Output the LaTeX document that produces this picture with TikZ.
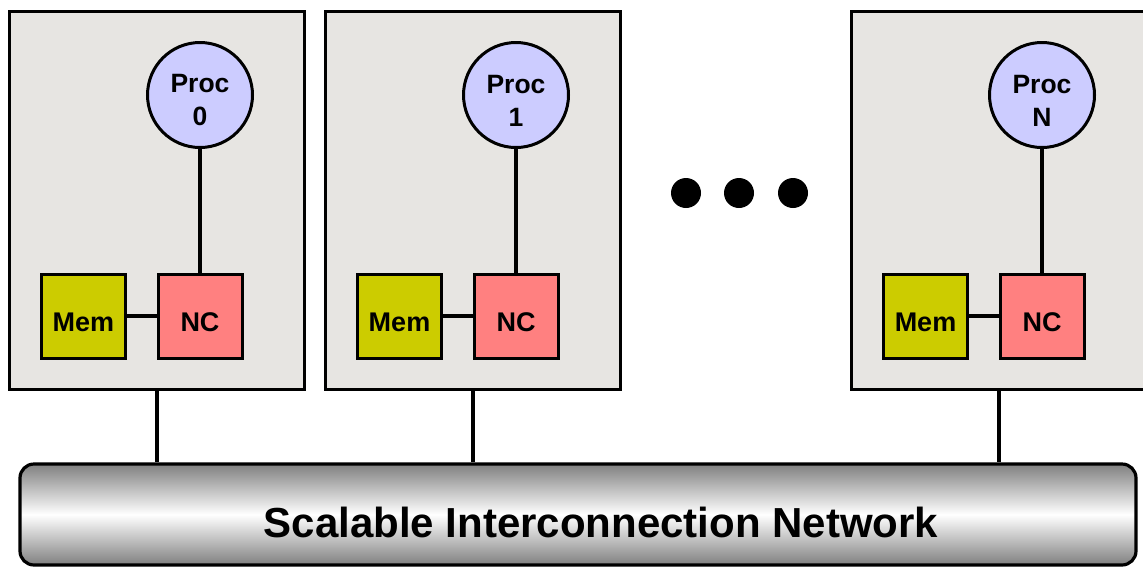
\documentclass[tikz,border=0pt]{standalone}
\usepackage{fontspec}
\setmainfont{Liberation Sans}
\definecolor{boxbg}{RGB}{231,229,226}
\definecolor{procfill}{RGB}{204,204,255}
\definecolor{memfill}{RGB}{204,204,0}
\definecolor{ncfill}{RGB}{255,128,128}
\tikzset{
  modbox/.style={draw=black, line width=3pt, fill=boxbg, minimum width=295pt, minimum height=378pt, inner sep=0pt},
  proc/.style={circle, draw=black, line width=3pt, fill=procfill, minimum size=105pt, inner sep=0pt},
  proctext/.style={align=center, inner sep=0pt, font=\fontsize{26.5}{33}\selectfont\bfseries},
  sq/.style={draw=black, line width=3pt, minimum size=84pt, inner sep=0pt, text height=30.6pt, text depth=0pt, font=\fontsize{27}{30}\selectfont\bfseries},
  mem/.style={sq, fill=memfill},
  nc/.style={sq, fill=ncfill},
  wire/.style={line width=3.6pt},
  dot/.style={circle, fill=black, minimum size=30pt, inner sep=0pt},
  net/.style={draw=black, line width=3.2pt, rounded corners=14pt, minimum width=1116pt, minimum height=101pt, inner sep=0pt,
    top color=gray!100, bottom color=gray!100, middle color=white, shading angle=0},
}
\begin{document}
\begin{tikzpicture}[x=1pt,y=-1pt]
\useasboundingbox (0,0) rectangle (1143,566);
\clip (0,0) rectangle (1143,566);
\fill[white] (0,0) rectangle (1143,566);
% network
\node[net] (net) at (578,514.5) {};
\node[font=\fontsize{42}{48}\selectfont\bfseries] (nettext) at (601,522) {Scalable Interconnection Network};
% modules
\foreach \L/\n/\lab in {9/0/0, 325/1/1, 851/2/N}{
  \node[modbox] (box\n) at (\L+147.5,200) {};
  \node[proc] (proc\n) at (\L+191,95) {};
  \node[proctext] (proctext\n) at (\L+191,100.5) {Proc\\\lab};
  \node[nc] (nc\n) at (\L+191,316) {NC};
  \node[mem] (mem\n) at (\L+74.5,316) {Mem};
  \draw[wire] (nc\n.north) -- (proc\n.south);
  \draw[wire] (mem\n.east) -- (nc\n.west);
  \coordinate (link\n) at (\L+148,389);
  \draw[wire] (box\n.south -| link\n) -- (net.north -| link\n);
}
% ellipsis dots
\node[dot] (d1) at (686,193) {};
\node[dot] (d2) at (739,193) {};
\node[dot] (d3) at (793,193) {};
\end{tikzpicture}
\end{document}
